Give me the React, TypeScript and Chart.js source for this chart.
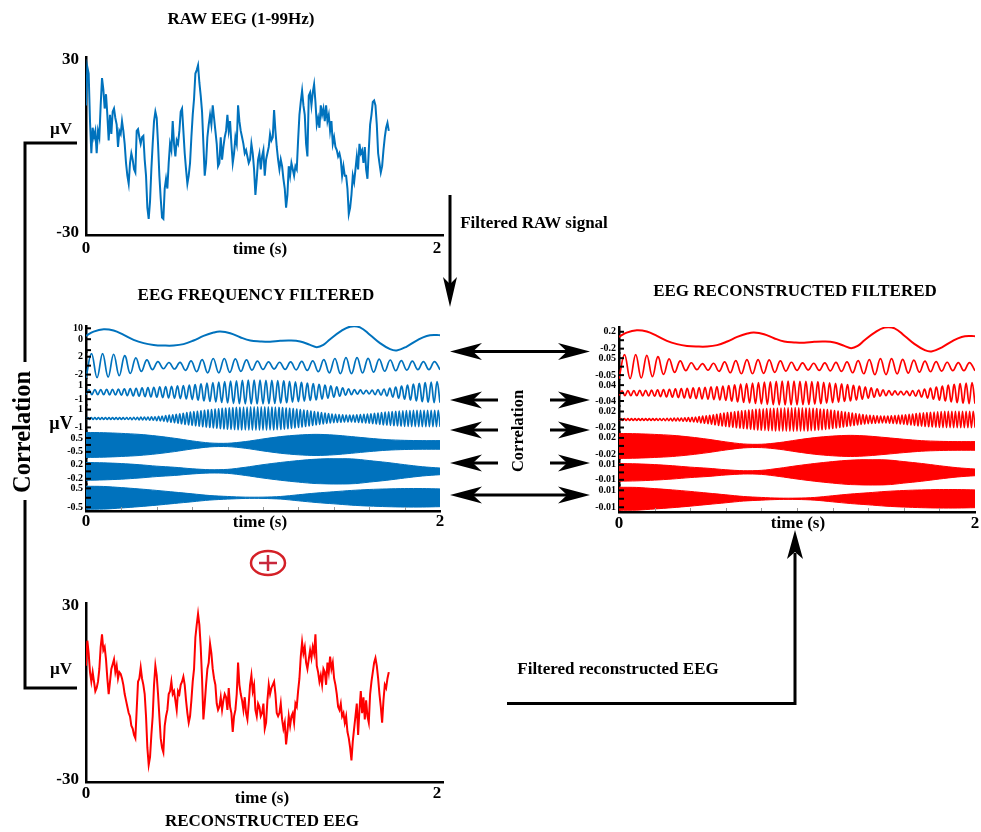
import React, { useEffect, useRef } from 'react';
import { Chart, registerables } from 'chart.js';

Chart.register(...registerables);

const FONT = '"Liberation Serif", "Times New Roman", Times, serif';
const BLUE = '#0072BD';
const RED = '#FF0000';

// ---------- raw / reconstructed EEG (µV), uniformly sampled ----------
const eegSampleStep = 0.0076; // s between samples
const eegTimeTicks = [0, 2];
const eegValueTicks = [30, -30];

const rawEEG = [
  14.2, 27.6, 25.3, 8.7, -2.5, 6.4, 3.1, 5.3, -2.5, 5.3, 3.1, 14.2, 23.7, 19.8, 13.1, 18.1, 10.9, 2.0, 10.9, 4.2,
  12.0, 13.1, 9.8, 7.5, -0.3, 5.3, 4.2, 8.7, 5.3, 0.8, -5.9, -10.3, -13.1, -5.9, -2.5, -4.7, -8.1, -9.2, 5.3, 5.9,
  3.1, 0.8, 3.1, 3.6, -4.7, -10.3, -21.5, -25.4, -19.3, -8.1, 0.8, 8.7, 12.0, 9.8, 0.8, -10.3, -18.2, -24.9, -25.4, -14.8,
  -11.4, -14.8, -5.9, 0.8, -1.4, 8.7, 0.8, -3.6, 2.0, 0.8, 5.3, 12.0, 13.1, 5.3, -2.5, -8.1, -13.1, -10.3, -5.9, 3.1,
  10.9, 16.5, 25.3, 26.5, 28.2, 22.1, 17.6, 12.0, 0.8, -10.3, -5.9, 3.1, 7.5, 10.9, 7.5, 14.2, 9.8, 5.3, 0.8, -7.0,
  -5.9, 3.1, -4.7, -0.3, 3.1, 5.3, 10.9, 5.3, 8.7, 0.8, -5.9, -2.5, 3.1, 0.8, 14.2, 8.7, 5.3, 3.1, 0.8, -2.5,
  -1.4, -3.6, -5.9, -4.7, 0.8, -2.5, -8.1, -17.0, -11.4, -4.7, -2.5, -8.1, -3.6, -1.4, -10.3, -4.7, -2.5, -0.3, 4.2, 2.0,
  3.1, 12.6, 5.3, -0.3, -4.7, -8.1, -4.7, -7.0, -11.4, -14.8, -21.5, -17.0, -7.0, -10.3, -5.9, -8.1, -10.3, -7.0, -8.1, 2.0,
  10.9, 15.4, 19.3, 14.2, 10.9, 0.8, -3.6, 17.6, 18.7, 14.2, 18.7, 21.5, 15.4, 7.5, 9.8, 6.4, 14.2, 10.9, 13.1, 8.7,
  14.2, 8.7, 10.9, 5.3, 8.7, 0.8, 3.1, -0.3, -1.4, -3.6, -2.5, -4.7, -10.3, -7.0, -10.3, -10.3, -14.8, -23.7, -21.5, -17.0,
  -10.3, -12.6, -8.1, -3.6, -8.1, 0.8, -2.5, -1.4, -5.9, -0.3, -8.1, -11.4, -1.4, 7.5, 10.9, 15.4, 15.9, 14.2, 7.5, -2.5,
  -5.9, -9.2, -7.0, -1.4, 3.1, 6.4, 8.1, 5.3,
];

const reconstructedEEG = [
  9.3, 18.0, 13.6, 7.1, 3.8, 7.1, 3.8, 0.5, 1.6, 3.8, 8.2, 15.8, 20.2, 14.7, 15.8, 11.5, 4.9, -0.5, 3.8, 8.2,
  9.8, 11.5, 7.1, 9.3, 4.9, 7.1, 6.5, 4.9, 2.7, -0.5, -2.7, -4.9, -7.1, -8.2, -11.5, -12.5, -14.7, -15.8, -6.0, 3.8,
  4.9, 8.7, 4.9, 2.7, -0.5, -8.2, -19.1, -25.1, -22.4, -14.7, -8.2, 2.7, 9.3, 6.0, -0.5, -8.2, -15.8, -19.1, -20.7, -11.5,
  -8.2, -6.0, -0.5, 0.5, 3.8, -0.5, 0.5, -2.7, -6.0, 0.5, -0.5, 2.7, 3.8, 5.5, 2.7, -2.7, -7.1, -10.4, -8.2, -2.7,
  3.8, 8.2, 19.1, 23.5, 27.3, 23.5, 15.8, 4.9, -9.3, -3.8, 2.7, 8.2, 10.4, 16.9, 13.6, 8.2, 4.9, 2.7, -3.8, -6.0,
  -4.9, -1.6, -6.0, -2.7, -0.5, -1.6, -6.0, 1.6, -4.9, -7.1, -13.6, -8.2, -6.0, -0.5, 10.4, 2.7, -0.5, -2.7, -6.0, -1.6,
  -7.1, -9.3, -3.8, 2.7, 6.0, 0.5, 2.7, -6.0, -8.2, -3.8, -4.9, -8.2, -7.1, -3.8, -12.5, -10.4, -2.7, 2.7, -0.5, 1.6,
  2.7, 3.8, -0.5, -7.1, -8.2, -7.1, -3.8, -9.3, -12.5, -10.4, -18.0, -13.6, -8.2, -11.5, -8.2, -7.1, -10.4, -3.8, -4.9, 0.5,
  4.9, 12.5, 17.5, 13.6, 15.8, 10.4, 8.2, 11.5, 14.7, 12.0, 15.8, 13.6, 20.2, 9.3, 7.1, 3.8, 6.0, 2.7, 8.2, 7.1,
  2.7, 10.4, 7.1, 12.5, 8.2, 10.4, 4.9, 2.7, -0.5, -4.9, -6.0, -3.8, -8.2, -7.1, -10.4, -8.2, -13.6, -15.8, -19.1, -23.5,
  -16.9, -12.5, -8.2, -3.8, -14.7, -6.0, 0.5, -7.1, -1.6, -9.3, -2.7, -8.2, -10.4, -0.5, 3.8, 7.1, 10.4, 12.0, 9.3, 4.9,
  -0.5, -4.9, -10.4, -2.7, 2.7, 1.6, 4.9, 7.1,
];

// ---------- frequency bands ----------
const bandTimeTicks = [0, 2];
const bandMinorTimes = [0.2, 0.4, 0.6, 0.8, 1.0, 1.2, 1.4, 1.6, 1.8];
const bandSpan = 2; // s

// slowest band: read point by point
const deltaTimes = [0, 0.043, 0.1, 0.156, 0.213, 0.269, 0.326, 0.382, 0.439, 0.495, 0.551, 0.608, 0.664, 0.721, 0.758, 0.815, 0.871, 0.928, 0.984, 1.04, 1.097, 1.153, 1.21, 1.266, 1.304, 1.341, 1.379, 1.436, 1.492, 1.548, 1.605, 1.661, 1.718, 1.755, 1.812, 1.868, 1.925, 1.981, 2.0];
const blueDelta = [3.0, 7.0, 9.1, 7.9, 3.9, -0.6, -3.6, -5.2, -5.8, -5.8, -4.5, -1.2, 3.0, 6.1, 7.0, 5.5, 1.8, -1.2, -2.1, -2.4, -1.5, -1.2, -2.1, -5.2, -7.3, -5.2, 0, 7.0, 11.5, 10.9, 3.9, -3.6, -9.1, -10.3, -6.7, -1.2, 3.0, 3.9, 3.6];
const redDelta = [0.078, 0.181, 0.236, 0.205, 0.101, -0.016, -0.093, -0.135, -0.15, -0.15, -0.117, -0.031, 0.078, 0.158, 0.181, 0.142, 0.047, -0.031, -0.054, -0.062, -0.039, -0.031, -0.054, -0.135, -0.189, -0.135, 0, 0.181, 0.298, 0.282, 0.101, -0.093, -0.236, -0.267, -0.174, -0.031, 0.078, 0.101, 0.093];

// oscillating bands: amplitude of each successive cycle
const blueBand2 = [2.7, 2.7, 2.55, 2.25, 1.75, 1.3, 0.88, 0.7, 0.75, 1.05, 1.35, 1.6, 1.6, 1.5, 1.3, 1.0, 0.85, 0.76, 0.83, 0.94, 1.07, 1.35, 1.6, 1.78, 1.8, 1.62, 1.45, 1.26, 1.14, 1.0, 0.9, 0.9];
const redBand2 = [0.071, 0.071, 0.067, 0.059, 0.046, 0.034, 0.023, 0.018, 0.02, 0.028, 0.036, 0.042, 0.042, 0.04, 0.034, 0.026, 0.022, 0.02, 0.022, 0.025, 0.028, 0.036, 0.042, 0.047, 0.047, 0.043, 0.038, 0.033, 0.03, 0.026, 0.024, 0.024];

const blueBand3 = [
  0.33, 0.35, 0.36, 0.38, 0.39, 0.41, 0.44, 0.49, 0.54, 0.58, 0.63, 0.68, 0.72, 0.77, 0.82, 0.87, 0.92, 0.97, 1.05, 1.15,
  1.25, 1.33, 1.4, 1.47, 1.53, 1.58, 1.64, 1.67, 1.67, 1.67, 1.66, 1.64, 1.61, 1.57, 1.5, 1.43, 1.36, 1.28, 1.19, 1.09,
  0.98, 0.86, 0.73, 0.59, 0.44, 0.35, 0.3, 0.25, 0.27, 0.35, 0.43, 0.55, 0.7, 0.85, 0.99, 1.12, 1.24, 1.34, 1.42, 1.49,
];
const redBand3 = [
  0.0118, 0.0125, 0.0129, 0.0136, 0.0139, 0.0147, 0.0157, 0.0175, 0.0193, 0.0207, 0.0225, 0.0243, 0.0257, 0.0275, 0.0293, 0.0311, 0.0329, 0.0347, 0.0375, 0.0411,
  0.0447, 0.0475, 0.05, 0.0526, 0.0547, 0.0565, 0.0586, 0.0597, 0.0597, 0.0597, 0.0593, 0.0586, 0.0576, 0.0561, 0.0536, 0.0511, 0.0486, 0.0458, 0.0425, 0.039,
  0.035, 0.0307, 0.0261, 0.0211, 0.0157, 0.0125, 0.0107, 0.0089, 0.0097, 0.0125, 0.0154, 0.0197, 0.025, 0.0304, 0.0354, 0.04, 0.0443, 0.0479, 0.0508, 0.0533,
];

const blueBand4 = [
  0.1, 0.1, 0.1, 0.1, 0.1, 0.1, 0.1, 0.1, 0.1, 0.1,
  0.1, 0.11, 0.12, 0.13, 0.14, 0.16, 0.17, 0.18, 0.2, 0.21,
  0.24, 0.29, 0.33, 0.38, 0.43, 0.48, 0.54, 0.6, 0.66, 0.72,
  0.77, 0.82, 0.87, 0.92, 0.97, 1.02, 1.06, 1.1, 1.14, 1.18,
  1.21, 1.23, 1.25, 1.27, 1.29, 1.3, 1.31, 1.31, 1.32, 1.33,
  1.32, 1.31, 1.3, 1.28, 1.27, 1.24, 1.19, 1.15, 1.11, 1.06,
  1.01, 0.95, 0.9, 0.84, 0.78, 0.72, 0.67, 0.62, 0.56, 0.51,
  0.47, 0.45, 0.43, 0.4, 0.38, 0.39, 0.42, 0.45, 0.48, 0.51,
  0.54, 0.59, 0.63, 0.67, 0.72, 0.76, 0.79, 0.82, 0.85, 0.88,
  0.9, 0.91, 0.92, 0.92, 0.93, 0.93, 0.93, 0.93, 0.93, 0.93,
];
const redBand4 = [
  0.0022, 0.0022, 0.0022, 0.0022, 0.0022, 0.0022, 0.0022, 0.0022, 0.0022, 0.0022,
  0.0022, 0.0025, 0.0027, 0.0029, 0.0031, 0.0036, 0.0038, 0.004, 0.0045, 0.0047,
  0.0054, 0.0065, 0.0074, 0.0085, 0.0096, 0.0107, 0.012, 0.0134, 0.0147, 0.0161,
  0.0172, 0.0183, 0.0194, 0.0205, 0.0216, 0.0227, 0.0236, 0.0245, 0.0254, 0.0263,
  0.027, 0.0274, 0.0279, 0.0283, 0.0288, 0.029, 0.0292, 0.0292, 0.0294, 0.0297,
  0.0294, 0.0292, 0.029, 0.0285, 0.0283, 0.0277, 0.0265, 0.0256, 0.0248, 0.0236,
  0.0225, 0.0212, 0.0201, 0.0187, 0.0174, 0.0161, 0.0149, 0.0138, 0.0125, 0.0114,
  0.0105, 0.01, 0.0096, 0.0089, 0.0085, 0.0087, 0.0094, 0.01, 0.0107, 0.0114,
  0.012, 0.0132, 0.014, 0.0149, 0.0161, 0.0169, 0.0176, 0.0183, 0.019, 0.0196,
  0.0201, 0.0203, 0.0205, 0.0205, 0.0207, 0.0207, 0.0207, 0.0207, 0.0207, 0.0207,
];

// fastest bands: upper / lower envelope every 0.1 s
const envelopeTimes = [0, 0.1, 0.2, 0.3, 0.4, 0.5, 0.6, 0.7, 0.8, 0.9, 1.0, 1.1, 1.2, 1.3, 1.4, 1.5, 1.6, 1.7, 1.8, 1.9, 2.0];
const blueBand5Upper = [0.9, 0.88, 0.83, 0.76, 0.64, 0.48, 0.29, 0.14, 0.12, 0.24, 0.43, 0.6, 0.71, 0.76, 0.71, 0.6, 0.48, 0.38, 0.33, 0.31, 0.31];
const blueBand5Lower = [-0.9, -0.88, -0.83, -0.76, -0.64, -0.48, -0.29, -0.14, -0.12, -0.24, -0.43, -0.6, -0.71, -0.76, -0.71, -0.6, -0.48, -0.38, -0.33, -0.31, -0.31];
const blueBand6Upper = [0.24, 0.23, 0.21, 0.18, 0.14, 0.11, 0.07, 0.045, 0.054, 0.11, 0.18, 0.24, 0.29, 0.33, 0.35, 0.34, 0.29, 0.24, 0.18, 0.125, 0.09];
const blueBand6Lower = [-0.24, -0.23, -0.21, -0.18, -0.14, -0.11, -0.07, -0.045, -0.054, -0.11, -0.18, -0.24, -0.29, -0.33, -0.35, -0.34, -0.29, -0.24, -0.18, -0.125, -0.09];
const blueBand7Upper = [0.61, 0.6, 0.54, 0.47, 0.39, 0.3, 0.21, 0.12, 0.07, 0.035, 0.035, 0.07, 0.16, 0.25, 0.32, 0.39, 0.44, 0.47, 0.49, 0.49, 0.47];
const blueBand7Lower = [-0.61, -0.6, -0.54, -0.47, -0.39, -0.3, -0.21, -0.12, -0.07, -0.035, -0.035, -0.07, -0.16, -0.25, -0.32, -0.39, -0.44, -0.47, -0.49, -0.49, -0.47];
const redBand5Upper = [0.0312, 0.0305, 0.0288, 0.0264, 0.0222, 0.0167, 0.0101, 0.0049, 0.0042, 0.0083, 0.0149, 0.0208, 0.0246, 0.0264, 0.0246, 0.0208, 0.0167, 0.0132, 0.0115, 0.0108, 0.0108];
const redBand5Lower = [-0.0312, -0.0305, -0.0288, -0.0264, -0.0222, -0.0167, -0.0101, -0.0049, -0.0042, -0.0083, -0.0149, -0.0208, -0.0246, -0.0264, -0.0246, -0.0208, -0.0167, -0.0132, -0.0115, -0.0108, -0.0108];
const redBand6Upper = [0.0119, 0.0114, 0.0104, 0.0089, 0.007, 0.0055, 0.0035, 0.0022, 0.0027, 0.0055, 0.0089, 0.0119, 0.0144, 0.0164, 0.0174, 0.0169, 0.0144, 0.0119, 0.0089, 0.0062, 0.0045];
const redBand6Lower = [-0.0119, -0.0114, -0.0104, -0.0089, -0.007, -0.0055, -0.0035, -0.0022, -0.0027, -0.0055, -0.0089, -0.0119, -0.0144, -0.0164, -0.0174, -0.0169, -0.0144, -0.0119, -0.0089, -0.0062, -0.0045];
const redBand7Upper = [0.0136, 0.0134, 0.012, 0.0105, 0.0087, 0.0067, 0.0047, 0.0027, 0.0016, 0.0008, 0.0008, 0.0016, 0.0036, 0.0056, 0.0071, 0.0087, 0.0098, 0.0105, 0.0109, 0.0109, 0.0105];
const redBand7Lower = [-0.0136, -0.0134, -0.012, -0.0105, -0.0087, -0.0067, -0.0047, -0.0027, -0.0016, -0.0008, -0.0008, -0.0016, -0.0036, -0.0056, -0.0071, -0.0087, -0.0098, -0.0105, -0.0109, -0.0109, -0.0105];

// per-band y ticks and labels
const blueTicks = [[10, 0, -10], [2, 0, -2], [1, 0, -1], [1, 0, -1], [0.5, 0, -0.5], [0.2, 0, -0.2], [0.5, 0, -0.5]];
const blueTickLabels = [['10', '0', ''], ['2', '', '-2'], ['1', '', '-1'], ['1', '', '-1'], ['0.5', '', '-0.5'], ['0.2', '', '-0.2'], ['0.5', '', '-0.5']];
const blueRanges = [12.1, 2.96, 1.86, 1.48, 0.95, 0.356, 0.7];
const redTicks = [[0.2, 0, -0.2], [0.05, 0, -0.05], [0.04, 0, -0.04], [0.02, 0, -0.02], [0.02, 0, -0.02], [0.01, 0, -0.01], [0.01, 0, -0.01]];
const redTickLabels = [['0.2', '', '-0.2'], ['0.05', '', '-0.05'], ['0.04', '', '-0.04'], ['0.02', '', '-0.02'], ['0.02', '', '-0.02'], ['0.01', '', '-0.01'], ['0.01', '', '-0.01']];
const redRanges = [0.313, 0.078, 0.0665, 0.033, 0.033, 0.0177, 0.0156];

// ---------- helpers ----------
type Pt = { x: number; y: number };
const pair = (times: number[], vals: number[]): Pt[] => vals.map((v, i) => ({ x: times[i], y: v }));
const sampled = (vals: number[], dt: number): Pt[] => vals.map((v, i) => ({ x: i * dt, y: v }));
// each cycle: trough then crest at the cycle's amplitude
const cycleExtremes = (amps: number[], span: number): Pt[] => {
  const half = span / (2 * amps.length);
  const pts: Pt[] = [];
  amps.forEach((a, i) => {
    pts.push({ x: 2 * i * half, y: -a });
    pts.push({ x: (2 * i + 1) * half, y: a });
  });
  pts.push({ x: span, y: -amps[amps.length - 1] });
  return pts;
};

const tickFont = (size: number) => ({ family: FONT, size, weight: 'bold' as const });
const blackBorder = { display: true, color: '#000', width: 2.5 };
const noGrid = { display: false, drawTicks: false };

function inwardTicksPlugin(yIds: string[], xMinor: number[]) {
  return {
    id: 'inwardTicks',
    afterDraw(chart: any) {
      const ctx = chart.ctx;
      ctx.save();
      ctx.strokeStyle = '#000';
      ctx.lineWidth = 2;
      yIds.forEach((id) => {
        const s = chart.scales[id];
        s.ticks.forEach((t: any) => {
          const y = s.getPixelForValue(t.value);
          ctx.beginPath();
          ctx.moveTo(s.right, y);
          ctx.lineTo(s.right + 5, y);
          ctx.stroke();
        });
      });
      const xs = chart.scales.x;
      ctx.strokeStyle = '#999';
      ctx.lineWidth = 1;
      xMinor.forEach((v) => {
        const x = Math.round(xs.getPixelForValue(v)) + 0.5;
        ctx.beginPath();
        ctx.moveTo(x, xs.top - 1);
        ctx.lineTo(x, xs.top - 4);
        ctx.stroke();
      });
      ctx.restore();
    },
  };
}

function eegConfig(values: number[], color: string, xPad: number): any {
  return {
    type: 'line',
    data: {
      datasets: [
        { data: sampled(values, eegSampleStep), borderColor: color, borderWidth: 2, pointRadius: 0, tension: 0, fill: false },
      ],
    },
    options: {
      responsive: false,
      animation: false,
      devicePixelRatio: 1,
      layout: { padding: { top: 10, right: 12, left: 0, bottom: 0 } },
      plugins: { legend: { display: false }, tooltip: { enabled: false } },
      scales: {
        x: {
          type: 'linear', min: 0, max: 2.034,
          afterBuildTicks: (s: any) => { s.ticks = eegTimeTicks.map((v) => ({ value: v })); },
          afterFit: (s: any) => { s.height = 30; },
          ticks: { font: tickFont(17), color: '#000', padding: xPad, autoSkip: false, maxRotation: 0, callback: (v: any) => String(v) },
          grid: noGrid, border: blackBorder,
        },
        y: {
          type: 'linear', min: -31, max: 31,
          afterBuildTicks: (s: any) => { s.ticks = eegValueTicks.map((v) => ({ value: v })); },
          afterFit: (s: any) => { s.width = 50; },
          ticks: { font: tickFont(17), color: '#000', padding: 7, autoSkip: false, callback: (v: any) => String(v) },
          grid: noGrid, border: blackBorder,
        },
      },
    },
  };
}

type BandSpec = { line?: Pt[]; upper?: Pt[]; lower?: Pt[]; tension?: number; width?: number };

function bandsConfig(color: string, specs: BandSpec[], ranges: number[], ticks: number[][], labels: string[][], stack: string, yWidth: number, xPad: number): any {
  const ids = specs.map((_, k) => `${stack}${k + 1}`);
  const scales: any = {
    x: {
      type: 'linear', min: 0, max: bandSpan,
      afterBuildTicks: (s: any) => { s.ticks = bandTimeTicks.map((v) => ({ value: v })); },
      afterFit: (s: any) => { s.height = 22; },
      ticks: { font: tickFont(17), color: '#000', padding: xPad, autoSkip: false, maxRotation: 0, callback: (v: any) => String(v) },
      grid: noGrid, border: blackBorder,
    },
  };
  ids.forEach((id, k) => {
    scales[id] = {
      type: 'linear', position: 'left', stack, stackWeight: 1, weight: ids.length - k,
      min: -ranges[k], max: ranges[k],
      afterBuildTicks: (s: any) => { s.ticks = ticks[k].map((v) => ({ value: v })); },
      afterFit: (s: any) => { s.width = yWidth; },
      ticks: { font: tickFont(10), color: '#000', padding: 3, autoSkip: false, callback: (_v: any, i: number) => labels[k][i] },
      grid: noGrid, border: blackBorder,
    };
  });
  const datasets: any[] = [];
  specs.forEach((b, k) => {
    if (b.line) {
      datasets.push({ data: b.line, yAxisID: ids[k], borderColor: color, borderWidth: b.width ?? 1.7, pointRadius: 0, tension: b.tension ?? 0.4, fill: false });
    } else {
      datasets.push({ data: b.upper, yAxisID: ids[k], borderColor: color, backgroundColor: color, borderWidth: 1, pointRadius: 0, tension: 0.3, fill: '+1' });
      datasets.push({ data: b.lower, yAxisID: ids[k], borderColor: color, borderWidth: 1, pointRadius: 0, tension: 0.3, fill: false });
    }
  });
  return {
    type: 'line',
    data: { datasets },
    options: {
      responsive: false,
      animation: false,
      devicePixelRatio: 1,
      layout: { padding: { top: 8, right: stack === 'blue' ? 12 : 6, left: 0, bottom: 0 } },
      plugins: { legend: { display: false }, tooltip: { enabled: false } },
      scales,
    },
    plugins: [inwardTicksPlugin(ids, bandMinorTimes)],
  };
}

const blueSpecs: BandSpec[] = [
  { line: pair(deltaTimes, blueDelta), tension: 0.4, width: 2 },
  { line: cycleExtremes(blueBand2, bandSpan) },
  { line: cycleExtremes(blueBand3, bandSpan) },
  { line: cycleExtremes(blueBand4, bandSpan), width: 1.5 },
  { upper: pair(envelopeTimes, blueBand5Upper), lower: pair(envelopeTimes, blueBand5Lower) },
  { upper: pair(envelopeTimes, blueBand6Upper), lower: pair(envelopeTimes, blueBand6Lower) },
  { upper: pair(envelopeTimes, blueBand7Upper), lower: pair(envelopeTimes, blueBand7Lower) },
];
const redSpecs: BandSpec[] = [
  { line: pair(deltaTimes, redDelta), tension: 0.4, width: 2 },
  { line: cycleExtremes(redBand2, bandSpan) },
  { line: cycleExtremes(redBand3, bandSpan) },
  { line: cycleExtremes(redBand4, bandSpan), width: 1.5 },
  { upper: pair(envelopeTimes, redBand5Upper), lower: pair(envelopeTimes, redBand5Lower) },
  { upper: pair(envelopeTimes, redBand6Upper), lower: pair(envelopeTimes, redBand6Lower) },
  { upper: pair(envelopeTimes, redBand7Upper), lower: pair(envelopeTimes, redBand7Lower) },
];

// ---------- components ----------
function ChartCanvas({ left, top, width, height, build }: { left: number; top: number; width: number; height: number; build: () => any }) {
  const ref = useRef<HTMLCanvasElement>(null);
  useEffect(() => {
    const chart = new Chart(ref.current as HTMLCanvasElement, build());
    return () => chart.destroy();
  }, []);
  return <canvas ref={ref} width={width} height={height} style={{ position: 'absolute', left, top, width, height }} />;
}

function Label({ x, y, size, children, rotate = 0, weight = 'bold' }: any) {
  return (
    <div
      style={{
        position: 'absolute', left: x, top: y,
        transform: `translate(-50%, -50%) rotate(${rotate}deg)`,
        fontFamily: FONT, fontSize: size, fontWeight: weight, whiteSpace: 'nowrap', lineHeight: 1, color: '#000',
      }}
    >
      {children}
    </div>
  );
}

const headLeft = (x: number, y: number) => `${x},${y} ${x + 32},${y - 8.5} ${x + 23},${y} ${x + 32},${y + 8.5}`;
const headRight = (x: number, y: number) => `${x},${y} ${x - 32},${y - 8.5} ${x - 23},${y} ${x - 32},${y + 8.5}`;

function Diagram() {
  const longRows = [351.5, 495];
  const shortRows = [400, 430, 463];
  return (
    <svg width={981} height={832} style={{ position: 'absolute', left: 0, top: 0 }}>
      <g stroke="#000" strokeWidth={3} fill="none">
        <path d="M77,143 H25 V362" />
        <path d="M25,500 V688 H77" />
        <path d="M450,195 V285" />
        <path d="M507,703.5 H795 V553" />
        {longRows.map((y) => <path key={'l' + y} d={`M473,${y} H567`} />)}
        {shortRows.map((y) => <path key={'s' + y} d={`M473,${y} H498 M550,${y} H567`} />)}
      </g>
      <g fill="#000" stroke="none">
        <polygon points="450,307 443,277 450,284 457,277" />
        <polygon points="795,530 787,559 795,552 803,559" />
        {[...longRows, ...shortRows].map((y) => (
          <g key={'h' + y}>
            <polygon points={headLeft(450, y)} />
            <polygon points={headRight(590, y)} />
          </g>
        ))}
      </g>
      <ellipse cx={268} cy={563} rx={17} ry={12} fill="none" stroke="#D42027" strokeWidth={2.5} />
      <path d="M259,563 H277 M268,555 V571" stroke="#C8283C" strokeWidth={2.5} />
    </svg>
  );
}

export default function App() {
  return (
    <div style={{ position: 'absolute', left: 0, top: 0, width: 981, height: 832, overflow: 'hidden', background: '#fff' }}>
      <ChartCanvas left={36} top={40} width={419} height={225} build={() => eegConfig(rawEEG, BLUE, 3)} />
      <ChartCanvas left={36} top={586} width={419} height={226} build={() => eegConfig(reconstructedEEG, RED, 1)} />
      <ChartCanvas left={46} top={317} width={406} height={216}
        build={() => bandsConfig(BLUE, blueSpecs, blueRanges, blueTicks, blueTickLabels, 'blue', 40, 0)} />
      <ChartCanvas left={575} top={318} width={406} height={216}
        build={() => bandsConfig(RED, redSpecs, redRanges, redTicks, redTickLabels, 'red', 44, 1)} />
      <Diagram />
      <Label x={241} y={18} size={17}>RAW EEG (1-99Hz)</Label>
      <Label x={61} y={128} size={17}>µV</Label>
      <Label x={260} y={248} size={17}>time (s)</Label>
      <Label x={534} y={222} size={17}>Filtered RAW signal</Label>
      <Label x={256} y={294} size={17}>EEG FREQUENCY FILTERED</Label>
      <Label x={795} y={290} size={17}>EEG RECONSTRUCTED FILTERED</Label>
      <Label x={61} y={423} size={18}>µV</Label>
      <Label x={260} y={521} size={17}>time (s)</Label>
      <Label x={798} y={522} size={17}>time (s)</Label>
      <Label x={518} y={431} size={16.5} rotate={-90}>Correlation</Label>
      <Label x={22} y={432} size={24.5} rotate={-90}>Correlation</Label>
      <Label x={618} y={668} size={17}>Filtered reconstructed EEG</Label>
      <Label x={61} y={668} size={17}>µV</Label>
      <Label x={262} y={797} size={17}>time (s)</Label>
      <Label x={262} y={820} size={17}>RECONSTRUCTED EEG</Label>
    </div>
  );
}
